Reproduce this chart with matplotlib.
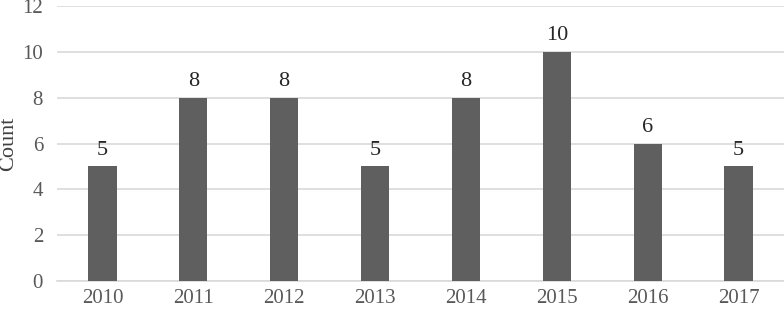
import numpy as np
import matplotlib.pyplot as plt

years = ['2010', '2011', '2012', '2013', '2014', '2015', '2016', '2017']
counts = [5, 8, 8, 5, 8, 10, 6, 5]

plt.rcParams['font.family'] = ['Liberation Serif', 'DejaVu Serif']

fig = plt.figure(figsize=(7.84, 3.13), dpi=100)
ax = fig.add_axes([0.0727, 0.102, 0.9273, 0.879])

x = np.arange(len(years))
bars = ax.bar(x, counts, width=0.31, color='#5f5f5f', zorder=3)
for xi, c in zip(x, counts):
    ax.text(xi, c + 0.3, str(c), ha='center', va='bottom', fontsize=16, color='#262626')

ax.set_xlim(-0.5, len(years) - 0.5)
ax.set_ylim(0, 12)
ax.set_yticks(range(0, 13, 2))
ax.set_xticks(x)
ax.set_xticklabels(years)
ax.yaxis.grid(True, color='#d9d9d9', linewidth=1.2, zorder=0)
ax.set_axisbelow(True)
for s in ['top', 'right', 'left']:
    ax.spines[s].set_visible(False)
ax.spines['bottom'].set_color('#d9d9d9')
ax.spines['bottom'].set_linewidth(1.2)
ax.tick_params(axis='both', length=0, labelsize=15, colors='#595959')
ax.tick_params(axis='x', pad=6)
ax.tick_params(axis='y', pad=10)
ax.set_ylabel('Count', fontsize=16, color='#404040')
ax.yaxis.set_label_coords(-0.054, 0.5)

fig.savefig('out.png', dpi=100)
